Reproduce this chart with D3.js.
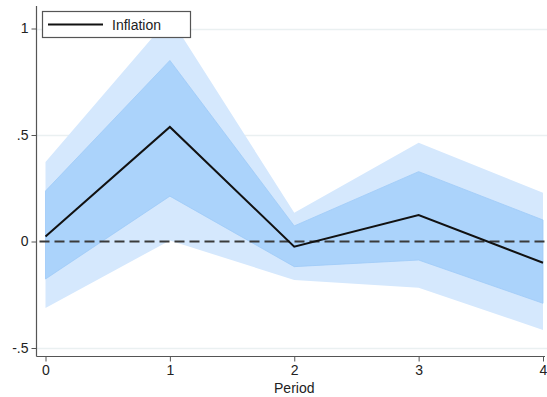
<!DOCTYPE html>
<html>
<head>
<meta charset="utf-8">
<script src="https://cdn.jsdelivr.net/npm/d3@7"></script>
<style>
  body { margin: 0; background: #fff; }
  text { font-family: "Liberation Sans", Arial, sans-serif; fill: #222; }
</style>
</head>
<body>
<div id="chart"></div>
<script>
// data
var periods = [0, 1, 2, 3, 4];
var inflation = [0.023, 0.538, -0.024, 0.124, -0.100];
var inner_lo = [-0.176, 0.213, -0.118, -0.087, -0.290];
var inner_hi = [0.237, 0.850, 0.073, 0.328, 0.101];
var outer_lo = [-0.312, 0.005, -0.181, -0.217, -0.415];
var outer_hi = [0.373, 1.053, 0.135, 0.464, 0.229];
var yTicks = [-0.5, 0, 0.5, 1];
var yTickLabels = ["-.5", "0", ".5", "1"];

var svgWidth = 547;
var svgHeight = 397;

var svg = d3.select("#chart")
    .append("svg")
    .attr("width", svgWidth)
    .attr("height", svgHeight);

var axisLeftX = 36.5;
var axisBottomY = 356.5;

var x = d3.scaleLinear().domain([0, 4]).range([45.5, 543]);
var y = d3.scaleLinear().domain([-0.5, 1]).range([348, 28.5]);

// gridlines
svg.append("g")
    .selectAll("line")
    .data(yTicks.filter(d => d !== 0))
    .enter()
    .append("line")
    .attr("x1", axisLeftX)
    .attr("x2", svgWidth)
    .attr("y1", d => Math.round(y(d)) + 0.5)
    .attr("y2", d => Math.round(y(d)) + 0.5)
    .attr("stroke", "#eaf0f1")
    .attr("stroke-width", 1.5);

var rows = periods.map(function(p, i) {
    return {p: p, v: inflation[i], ilo: inner_lo[i], ihi: inner_hi[i], olo: outer_lo[i], ohi: outer_hi[i]};
});

// bands
var outerArea = d3.area().x(d => x(d.p)).y0(d => y(d.olo)).y1(d => y(d.ohi));
var innerArea = d3.area().x(d => x(d.p)).y0(d => y(d.ilo)).y1(d => y(d.ihi));

svg.append("path")
    .datum(rows)
    .attr("d", outerArea)
    .attr("fill", "#d5e8fd");

svg.append("path")
    .datum(rows)
    .attr("d", innerArea)
    .attr("fill", "#abd3fb")
    .attr("stroke", "#9ecaf8")
    .attr("stroke-width", 0.8);

// zero reference line
svg.append("line")
    .attr("x1", axisLeftX + 3)
    .attr("x2", svgWidth)
    .attr("y1", y(0))
    .attr("y2", y(0))
    .attr("stroke", "#3a3a3a")
    .attr("stroke-width", 1.8)
    .attr("stroke-dasharray", "10,5");

// point estimate
var line = d3.line().x(d => x(d.p)).y(d => y(d.v));
svg.append("path")
    .datum(rows)
    .attr("d", line)
    .attr("fill", "none")
    .attr("stroke", "#111")
    .attr("stroke-width", 2);

// axes
var leftAxis = d3.axisLeft(y)
    .tickValues(yTicks)
    .tickFormat((d, i) => yTickLabels[i])
    .tickSizeInner(5)
    .tickSizeOuter(0)
    .tickPadding(3);

var yAxis = svg.append("g")
    .attr("transform", `translate(${axisLeftX},0)`)
    .call(leftAxis);
yAxis.select(".domain").remove();
yAxis.append("line")
    .attr("x1", 0).attr("x2", 0)
    .attr("y1", 6).attr("y2", axisBottomY)
    .attr("stroke", "#555")
    .attr("stroke-width", 1.2);

var bottomAxis = d3.axisBottom(x)
    .tickValues(periods)
    .tickFormat(d3.format("d"))
    .tickSizeInner(5)
    .tickSizeOuter(0)
    .tickPadding(4);

var xAxis = svg.append("g")
    .attr("transform", `translate(0,${axisBottomY})`)
    .call(bottomAxis);
xAxis.select(".domain").remove();
xAxis.append("line")
    .attr("x1", axisLeftX).attr("x2", 545)
    .attr("y1", 0).attr("y2", 0)
    .attr("stroke", "#555")
    .attr("stroke-width", 1.2);

svg.selectAll(".tick line").attr("stroke", "#555");
svg.selectAll(".tick text")
    .attr("font-size", 14)
    .style("font-family", "'Liberation Sans', Arial, sans-serif")
    .attr("fill", "#222");

// axis title
svg.append("text")
    .attr("x", (x(0) + x(4)) / 2)
    .attr("y", 393)
    .attr("text-anchor", "middle")
    .attr("font-size", 14)
    .text("Period");

// legend
var legend = svg.append("g");
legend.append("rect")
    .attr("x", 42.5)
    .attr("y", 11.5)
    .attr("width", 148)
    .attr("height", 26)
    .attr("fill", "#fff")
    .attr("stroke", "#555")
    .attr("stroke-width", 1.2);
legend.append("line")
    .attr("x1", 48).attr("x2", 103)
    .attr("y1", 24.5).attr("y2", 24.5)
    .attr("stroke", "#111")
    .attr("stroke-width", 2);
legend.append("text")
    .attr("x", 112)
    .attr("y", 29.5)
    .attr("font-size", 14)
    .text("Inflation");
</script>
</body>
</html>
